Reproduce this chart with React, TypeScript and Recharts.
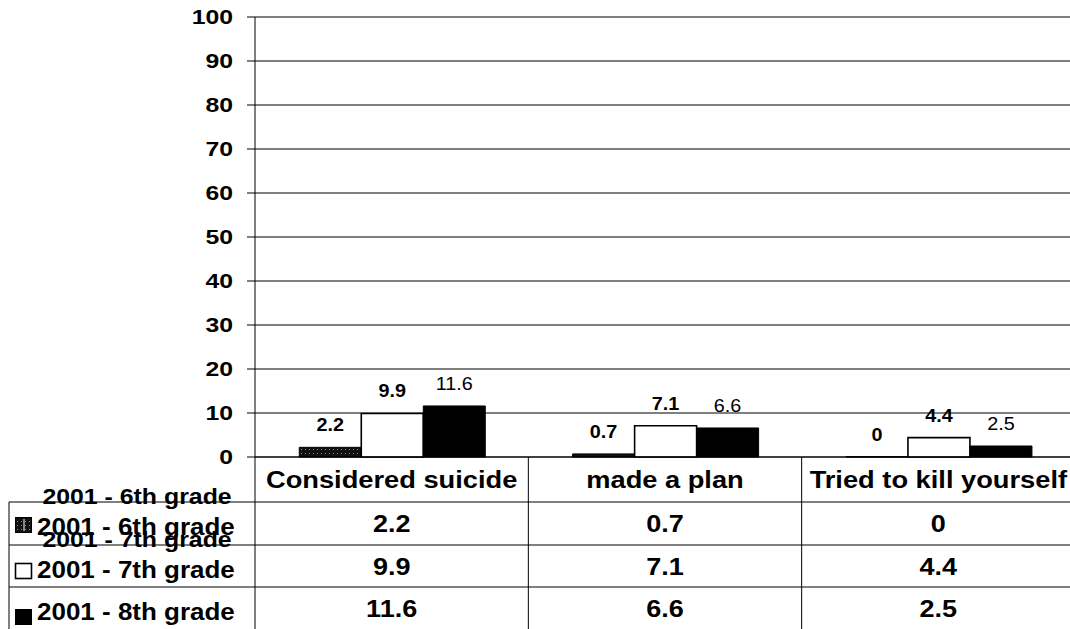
import { BarChart, Bar, XAxis, YAxis, CartesianGrid, LabelList } from 'recharts';

// categories / series
const categories = ['Considered suicide', 'made a plan', 'Tried to kill yourself'];
const seriesNames = ['2001 - 6th grade', '2001 - 7th grade', '2001 - 8th grade'];
const grade6 = [2.2, 0.7, 0];
const grade7 = [9.9, 7.1, 4.4];
const grade8 = [11.6, 6.6, 2.5];
const yTicks = [0, 10, 20, 30, 40, 50, 60, 70, 80, 90, 100];

const FONT = '"Liberation Sans", Arial, sans-serif';
const CHART_W = 1080;
const CHART_H = 629;
const PLOT_LEFT = 255;
const PLOT_TOP = 17;
const PLOT_BOTTOM = 457;
const PLOT_RIGHT = 1075;
const BAND = (PLOT_RIGHT - PLOT_LEFT) / categories.length;

// data table rows (header + one per series)
const ROW_LINES = [502, 545, 587];
const HEADER_CY = 480;
const ROW_CY = [524, 567, 609];

const chartData = categories.map((name, i) => ({
  name,
  g6: grade6[i],
  g7: grade7[i],
  g8: grade8[i],
}));

const seriesValues = [grade6, grade7, grade8];

// the original export is stretched sideways, so text gets a horizontal scale
function SText({ x, y, size, bold = true, anchor = 'middle', sx = 1.15, baseline = 'central', children }: any) {
  return (
    <text
      transform={`translate(${x},${y}) scale(${sx},1)`}
      textAnchor={anchor}
      dominantBaseline={baseline}
      fontFamily={FONT}
      fontSize={size}
      fontWeight={bold ? 'bold' : 'normal'}
      fill="#000"
    >
      {children}
    </text>
  );
}

function YTick(props: any) {
  const { x, y, payload } = props;
  return <SText x={x} y={y} size={21} anchor="end" sx={1.18}>{payload.value}</SText>;
}

// category name + table values under each band
function TableTick(props: any) {
  const { x, index } = props;
  return (
    <g>
      <SText x={x} y={HEADER_CY} size={23.5} sx={1.16}>{categories[index]}</SText>
      {seriesValues.map((vals, r) => (
        <SText key={r} x={x} y={ROW_CY[r]} size={23.5}>{String(vals[index])}</SText>
      ))}
    </g>
  );
}

const barLabel = (bold: boolean) => (p: any) => {
  const { x, y, width, value } = p;
  return (
    <SText x={Number(x) + Number(width) / 2} y={Number(y) - 16} size={18} sx={1.1} bold={bold} baseline="auto">
      {String(value)}
    </SText>
  );
};

export default function App() {
  const boundaries = [0, 1, 2].map(i => PLOT_LEFT + i * BAND);

  return (
    <div style={{ position: 'absolute', left: 0, top: 0, width: 1070, height: 629, overflow: 'hidden', background: '#fff' }}>
      <svg width={0} height={0} style={{ position: 'absolute' }}>
        <defs>
          <pattern id="dots6" width={4} height={4} patternUnits="userSpaceOnUse">
            <rect width={4} height={4} fill="#111" />
            <rect x={1} y={1} width={1} height={1} fill="#8a8a8a" />
          </pattern>
        </defs>
      </svg>

      <BarChart
        width={CHART_W}
        height={CHART_H}
        data={chartData}
        margin={{ top: PLOT_TOP, right: CHART_W - PLOT_RIGHT, left: 0, bottom: 0 }}
        barCategoryGap="16.2%"
        barGap={0}
      >
        <CartesianGrid vertical={false} stroke="#000" strokeWidth={1} />
        <XAxis
          dataKey="name"
          height={CHART_H - PLOT_BOTTOM}
          axisLine={{ stroke: '#000', strokeWidth: 1 }}
          tickLine={false}
          interval={0}
          tick={<TableTick />}
        />
        <YAxis
          width={PLOT_LEFT}
          domain={[0, 100]}
          ticks={yTicks}
          interval={0}
          axisLine={{ stroke: '#000', strokeWidth: 1 }}
          tickLine={{ stroke: '#000', strokeWidth: 1 }}
          tickSize={8}
          tickMargin={14}
          tick={<YTick />}
        />
        {/* tiny minPointSize so the zero bar still gets its "0" label */}
        <Bar dataKey="g6" name={seriesNames[0]} fill="url(#dots6)" stroke="#000" strokeWidth={1} minPointSize={0.3} isAnimationActive={false}>
          <LabelList dataKey="g6" content={barLabel(true)} />
        </Bar>
        <Bar dataKey="g7" name={seriesNames[1]} fill="#fff" stroke="#000" strokeWidth={1.6} isAnimationActive={false}>
          <LabelList dataKey="g7" content={barLabel(true)} />
        </Bar>
        <Bar dataKey="g8" name={seriesNames[2]} fill="#000" stroke="#000" strokeWidth={1} isAnimationActive={false}>
          <LabelList dataKey="g8" content={barLabel(false)} />
        </Bar>
      </BarChart>

      {/* data table grid + legend keys */}
      <svg width={1070} height={629} style={{ position: 'absolute', left: 0, top: 0, pointerEvents: 'none' }}>
        {boundaries.map((bx, i) => (
          <line key={i} x1={bx} x2={bx} y1={PLOT_BOTTOM} y2={629} stroke="#000" strokeWidth={1} />
        ))}
        {ROW_LINES.map((ly, i) => (
          <line key={i} x1={9} x2={1070} y1={ly} y2={ly} stroke="#000" strokeWidth={1} />
        ))}
        <line x1={9} x2={9} y1={ROW_LINES[0]} y2={629} stroke="#000" strokeWidth={1} />

        <rect x={15.5} y={517.5} width={16} height={15} fill="url(#dots6)" stroke="#000" strokeWidth={1} />
        <line x1={24} x2={24} y1={519} y2={531} stroke="#fff" strokeWidth={1} />
        <rect x={15.5} y={563.5} width={16} height={15} fill="#fff" stroke="#000" strokeWidth={1.6} />
        <rect x={15.5} y={609.5} width={16} height={15} fill="#000" stroke="#000" strokeWidth={1} />

        {/* ghost duplicate labels as in the original export */}
        <SText x={137} y={497} size={22} sx={1.13}>{seriesNames[0]}</SText>
        <SText x={137} y={540} size={22} sx={1.13}>{seriesNames[1]}</SText>
        {seriesNames.map((s, i) => (
          <SText key={i} x={37} y={[527, 570, 612][i]} size={23} sx={1.13} anchor="start">{s}</SText>
        ))}
      </svg>
    </div>
  );
}
